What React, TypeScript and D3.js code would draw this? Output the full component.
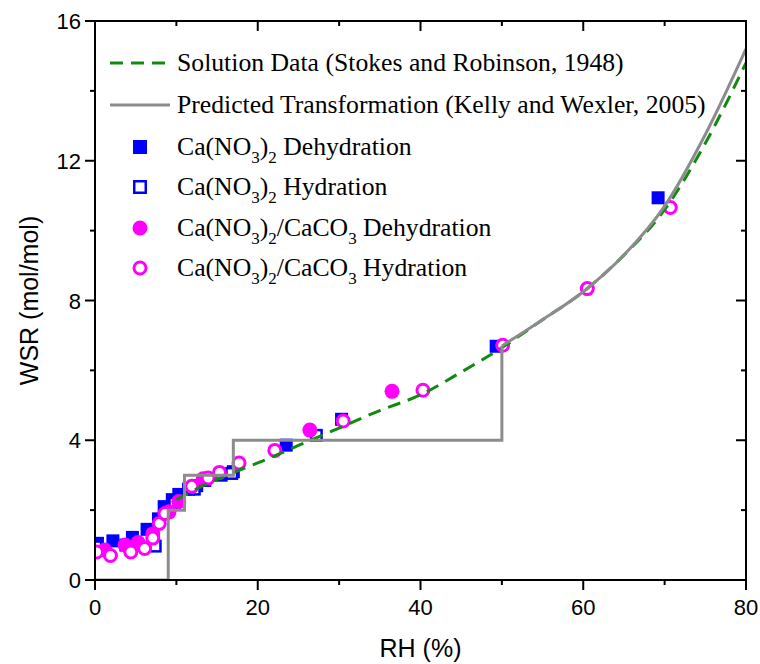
import React from "react";
import * as d3 from "d3";

// Solution data (Stokes and Robinson, 1948)
const solutionRH = [10, 12, 14, 16, 18, 20, 25, 30, 35, 40, 45, 50, 55, 60, 65, 70, 75, 80];
const solutionWSR = [2.3, 2.55, 2.78, 2.98, 3.17, 3.35, 3.85, 4.35, 4.85, 5.3, 5.95, 6.65, 7.45, 8.25, 9.3, 10.6, 12.5, 14.8];

// Predicted transformation (Kelly and Wexler, 2005)
const predictedStepRH = [0, 9, 9, 11, 11, 17, 17, 50, 50];
const predictedStepWSR = [0, 0, 2, 2, 3, 3, 4, 4, 6.7];
const predictedCurveRH = [50, 55, 60, 65, 70, 75, 80];
const predictedCurveWSR = [6.7, 7.45, 8.25, 9.3, 10.7, 12.75, 15.2];

// Ca(NO3)2 Dehydration
const caDehRH = [0.3, 2.2, 4.6, 6.4, 7.8, 8.5, 9.5, 10.3, 11.5, 12.5, 13.5, 15.5, 17.0, 23.5, 30.3, 49.3, 69.2];
const caDehWSR = [1.05, 1.12, 1.22, 1.45, 1.75, 2.1, 2.3, 2.45, 2.6, 2.7, 2.85, 3.0, 3.1, 3.86, 4.6, 6.69, 10.94];

// Ca(NO3)2 Hydration
const caHydRH = [0.1, 3.8, 7.4, 9.8, 12.2, 16.8, 27.2];
const caHydWSR = [0.95, 1.0, 0.97, 2.2, 2.6, 3.05, 4.14];

// Ca(NO3)2/CaCO3 Dehydration
const mixDehRH = [1.2, 3.7, 5.3, 7.1, 9.1, 10.3, 13.3, 26.4, 36.5];
const mixDehWSR = [0.86, 1.0, 1.07, 1.32, 1.95, 2.25, 2.9, 4.29, 5.4];

// Ca(NO3)2/CaCO3 Hydration
const mixHydRH = [0.2, 1.9, 4.4, 6.1, 7.1, 7.9, 8.6, 11.9, 13.9, 15.3, 17.7, 22.1, 30.5, 40.3, 50.1, 60.5, 70.7];
const mixHydWSR = [0.8, 0.7, 0.8, 0.9, 1.2, 1.62, 1.9, 2.68, 2.92, 3.08, 3.35, 3.71, 4.55, 5.43, 6.72, 8.34, 10.66];

const xTicks = [0, 20, 40, 60, 80];
const yTicks = [0, 4, 8, 12, 16];

const W = 760, H = 664;
const L = 95, R = 746, T = 21, B = 580;

const BLUE = "#0000ff";
const MAG = "#ff00ff";
const GREEN = "#118a11";
const GRAY = "#8c8c8c";

export default function App() {
  const x = d3.scaleLinear().domain([0, 80]).range([L, R]);
  const y = d3.scaleLinear().domain([0, 16]).range([B, T]);
  const line = d3.line<[number, number]>().x(d => x(d[0])).y(d => y(d[1]));
  const smooth = d3.line<[number, number]>().x(d => x(d[0])).y(d => y(d[1])).curve(d3.curveMonotoneX);

  const sol = solutionRH.map((v, i) => [v, solutionWSR[i]] as [number, number]);
  const step = predictedStepRH.map((v, i) => [v, predictedStepWSR[i]] as [number, number]);
  const curve = predictedCurveRH.map((v, i) => [v, predictedCurveWSR[i]] as [number, number]);

  const xMinor = d3.range(0, 81, 10);
  const yMinor = d3.range(0, 17, 2);
  const sq = 13;

  const serif = "'Liberation Serif', 'Times New Roman', serif";
  const sans = "'Liberation Sans', Arial, sans-serif";

  const legendX = 177;
  const legRows = [63, 105, 147, 187, 228, 268];
  const legFS = 25.7;
  const subFS = 17;
  const sd = 8;

  const caLabel = (suffix: string, withCO3: boolean) => (
    <>
      Ca(NO<tspan fontSize={subFS} dy={sd}>3</tspan>
      <tspan dy={-sd}>)</tspan>
      <tspan fontSize={subFS} dy={sd}>2</tspan>
      {withCO3 ? (
        <>
          <tspan dy={-sd}>/CaCO</tspan>
          <tspan fontSize={subFS} dy={sd}>3</tspan>
          <tspan dy={-sd}>{" " + suffix}</tspan>
        </>
      ) : (
        <tspan dy={-sd}>{" " + suffix}</tspan>
      )}
    </>
  );

  return (
    <svg width={W} height={H} style={{ position: "absolute", left: 0, top: 0, background: "#fff" }}>
      <defs>
        <clipPath id="plot">
          <rect x={L} y={T} width={R - L} height={B - T} />
        </clipPath>
      </defs>
      <rect x={0} y={0} width={W} height={H} fill="#fff" />

      <g clipPath="url(#plot)">
        {caDehRH.map((v, i) => (
          <rect key={"cd" + i} x={x(v) - sq / 2} y={y(caDehWSR[i]) - sq / 2} width={sq} height={sq} fill={BLUE} />
        ))}
        {caHydRH.map((v, i) => (
          <rect key={"ch" + i} x={x(v) - sq / 2 + 1.25} y={y(caHydWSR[i]) - sq / 2 + 1.25} width={sq - 2.5} height={sq - 2.5} fill="#fff" stroke={BLUE} strokeWidth={2.5} />
        ))}
        {mixDehRH.map((v, i) => (
          <circle key={"md" + i} cx={x(v)} cy={y(mixDehWSR[i])} r={7.5} fill={MAG} />
        ))}
        {mixHydRH.map((v, i) => (
          <circle key={"mh" + i} cx={x(v)} cy={y(mixHydWSR[i])} r={6} fill="#fff" stroke={MAG} strokeWidth={3} />
        ))}
        <path d={smooth(sol) || ""} fill="none" stroke={GREEN} strokeWidth={3} strokeDasharray="13 8" />
        <path d={line(step) || ""} fill="none" stroke={GRAY} strokeWidth={3} />
        <path d={smooth(curve) || ""} fill="none" stroke={GRAY} strokeWidth={3} />
      </g>

      {/* frame */}
      <rect x={L} y={T} width={R - L} height={B - T} fill="none" stroke="#000" strokeWidth={2} />

      {/* x ticks bottom (outward) and top (inward) */}
      {xMinor.map(t => {
        const major = t % 20 === 0;
        const len = major ? 10 : 5;
        return (
          <g key={"xt" + t}>
            <line x1={x(t)} x2={x(t)} y1={B} y2={B + len} stroke="#000" strokeWidth={2} />
            <line x1={x(t)} x2={x(t)} y1={T} y2={T + len} stroke="#000" strokeWidth={2} />
          </g>
        );
      })}
      {yMinor.map(t => {
        const major = t % 4 === 0;
        const len = major ? 10 : 5;
        return (
          <g key={"yt" + t}>
            <line x1={L - len} x2={L} y1={y(t)} y2={y(t)} stroke="#000" strokeWidth={2} />
            <line x1={R - len} x2={R} y1={y(t)} y2={y(t)} stroke="#000" strokeWidth={2} />
          </g>
        );
      })}
      {xTicks.map(t => (
        <text key={"xl" + t} x={x(t)} y={615} fontSize={22} fontFamily={sans} textAnchor="middle">{t}</text>
      ))}
      {yTicks.map(t => (
        <text key={"yl" + t} x={L - 14} y={y(t) + 8} fontSize={22} fontFamily={sans} textAnchor="end">{t}</text>
      ))}

      <text x={(L + R) / 2} y={657} fontSize={25} fontFamily={sans} textAnchor="middle">RH (%)</text>
      <text transform={`translate(38, ${(T + B) / 2}) rotate(-90)`} fontSize={25} fontFamily={sans} textAnchor="middle">WSR (mol/mol)</text>

      {/* legend */}
      <line x1={110} x2={170} y1={legRows[0]} y2={legRows[0]} stroke={GREEN} strokeWidth={3} strokeDasharray="13 8" />
      <text x={legendX} y={legRows[0] + 8} fontSize={legFS} fontFamily={serif}>Solution Data (Stokes and Robinson, 1948)</text>
      <line x1={110} x2={170} y1={legRows[1]} y2={legRows[1]} stroke={GRAY} strokeWidth={3} />
      <text x={legendX} y={legRows[1] + 8} fontSize={legFS} fontFamily={serif}>Predicted Transformation (Kelly and Wexler, 2005)</text>

      <rect x={140 - 7} y={legRows[2] - 7} width={14} height={14} fill={BLUE} />
      <text x={legendX} y={legRows[2] + 8} fontSize={legFS} fontFamily={serif}>{caLabel("Dehydration", false)}</text>
      <rect x={140 - 5.75} y={legRows[3] - 5.75} width={11.5} height={11.5} fill="#fff" stroke={BLUE} strokeWidth={2.5} />
      <text x={legendX} y={legRows[3] + 8} fontSize={legFS} fontFamily={serif}>{caLabel("Hydration", false)}</text>
      <circle cx={140} cy={legRows[4]} r={7.5} fill={MAG} />
      <text x={legendX} y={legRows[4] + 8} fontSize={legFS} fontFamily={serif}>{caLabel("Dehydration", true)}</text>
      <circle cx={140} cy={legRows[5]} r={6} fill="#fff" stroke={MAG} strokeWidth={3} />
      <text x={legendX} y={legRows[5] + 8} fontSize={legFS} fontFamily={serif}>{caLabel("Hydration", true)}</text>
    </svg>
  );
}
